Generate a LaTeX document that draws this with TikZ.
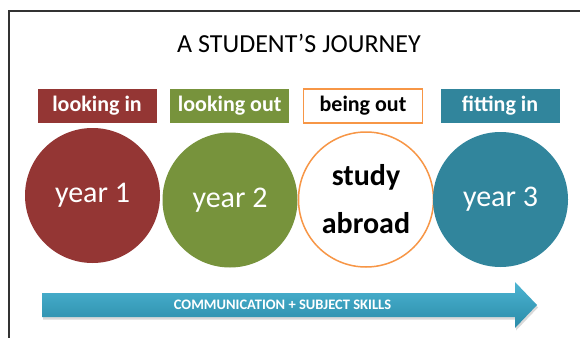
\documentclass[tikz,border=0pt]{standalone}
\usepackage{fontspec}
\setmainfont{Carlito}
\definecolor{cred}{HTML}{943634}
\definecolor{cgreen}{HTML}{77933C}
\definecolor{corange}{HTML}{F79646}
\definecolor{cteal}{HTML}{31859C}
\definecolor{arrtop}{HTML}{4CB4D2}
\definecolor{arrbot}{HTML}{2A8BA8}
\begin{document}
\begin{tikzpicture}[x=1pt,y=-1pt,
  labelbox/.style={minimum width=119pt, minimum height=34pt, inner sep=0pt,
    font=\bfseries\fontsize{22}{24}\selectfont},
  circ/.style={circle, minimum size=135pt, inner sep=0pt},
  yeartext/.style={text=white, font=\fontsize{30}{36}\selectfont}]
\useasboundingbox (0,0) rectangle (580,337);
\fill[white] (0,0) rectangle (580,337);
\draw[line width=1.5pt, black!80] (9,345) -- (9,11) -- (590,11);
\node[font=\fontsize{26}{30}\selectfont] (title) at (299,43.5) {A STUDENT’S JOURNEY};
% label boxes
\node[labelbox, fill=cred, text=white] (lin) at (97,106) {looking in};
\node[labelbox, fill=cgreen, text=white] (lout) at (229.7,106) {looking out};
\node[labelbox, fill=white, draw=corange, line width=1.5pt, text=black] (bout) at (363,106) {being out};
\node[labelbox, fill=cteal, text=white] (fin) at (500,106) {fitting in};
% circles
\node[circ, fill=cred, yeartext] (y1) at (92.5,195.5) {year 1};
\node[circ, fill=cgreen, yeartext] (y2) at (230,200) {year 2};
\node[circ, fill=white, draw=corange, line width=1.5pt, align=center,
  font=\bfseries\fontsize{30}{48}\selectfont] (sa) at (366,199.5) {study\\abroad};
\node[circ, fill=cteal, yeartext] (y3) at (500.5,199.5) {year 3};
% arrow
\fill[black, opacity=0.15, shift={(1,2.5)}] (42,293) -- (515,293) -- (515,282) -- (537,305) -- (515,328) -- (515,317) -- (42,317) -- cycle;
\shade[top color=arrtop, bottom color=arrbot] (42,293) -- (515,293) -- (515,282) -- (537,305) -- (515,328) -- (515,317) -- (42,317) -- cycle;
\node[text=white, font=\bfseries\fontsize{14.5}{16}\selectfont] (skills) at (282.5,305) {COMMUNICATION + SUBJECT SKILLS};
\end{tikzpicture}
\end{document}
